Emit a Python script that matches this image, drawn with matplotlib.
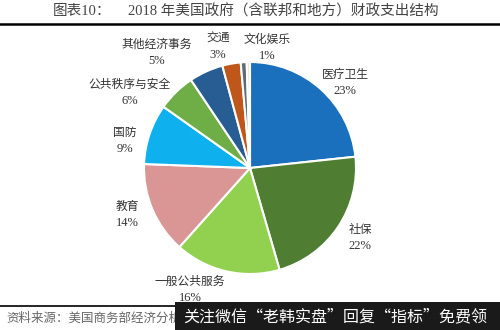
import matplotlib
matplotlib.use("Agg")
import matplotlib.pyplot as plt
from matplotlib.patches import Rectangle

plt.rcParams['font.family'] = ['Liberation Serif', 'Noto Sans CJK SC']

# 2018 US government spending structure (share of total, %)
categories = ['医疗卫生', '社保', '一般公共服务', '教育', '国防',
              '公共秩序与安全', '其他经济事务', '交通', '文化娱乐', '其他']
shares = [23.3, 22.2, 16.1, 14.0, 9.2, 5.8, 5.2, 2.8, 0.9, 0.5]
pct_labels = ['23%', '22%', '16%', '14%', '9%', '6%', '5%', '3%', '1%', '']

colors = ['#1B70BE', '#4F7E32', '#92D050', '#D99694', '#0EB0EE',
          '#6FAD47', '#275D92', '#C0571A', '#5E6A75', '#EFE6D6']

# label centres in pixel coords (x from left, y from top)
label_px = [(345, 83), (360, 238), (190, 290), (127, 215), (125, 141),
            (130, 93), (157, 53), (218, 47), (267, 48), None]

W, H = 500, 330
fig = plt.figure(figsize=(5, 3.3), dpi=100)
ax = fig.add_axes([0, 0, 1, 1])

ax.pie(shares, colors=colors, startangle=90, counterclock=False,
       center=(250, H - 168), radius=106,
       wedgeprops=dict(edgecolor='white', linewidth=1.5))

for name, pct, pos in zip(categories, pct_labels, label_px):
    if pos is None:
        continue
    x, y = pos
    ax.text(x, H - y + 8, name, ha='center', va='center', fontsize=8.5,
            color='#333333')
    ax.text(x, H - y - 8, pct, ha='center', va='center', fontsize=9,
            color='#333333')

ax.set_xlim(0, W)
ax.set_ylim(0, H)
ax.set_aspect('auto')
ax.axis('off')

# title and rules
ax.text(53, H - 12, '图表10：', ha='left', va='center', fontsize=10.5,
        color='#444444')
ax.text(128, H - 12, '2018 年美国政府（含联邦和地方）财政支出结构',
        ha='left', va='center', fontsize=10.5, color='#444444')
ax.plot([0, W], [H - 24, H - 24], color='black', lw=1.8)
ax.plot([0, W], [H - 306, H - 306], color='black', lw=1.2)

ax.text(6, H - 319, '资料来源：美国商务部经济分析局', ha='left', va='center',
        fontsize=9, color='#666666', style='italic')

# watermark banner
ax.add_patch(Rectangle((175, 0), W - 175, H - 302, facecolor='#1a1a1a',
                       edgecolor='none', zorder=5))
ax.text(183, H - 317, '关注微信“老韩实盘”回复“指标”免费领', ha='left',
        va='center', fontsize=11.5, color='white', zorder=6,
        family=['Noto Sans CJK SC'])

fig.savefig('out.png', dpi=100)
